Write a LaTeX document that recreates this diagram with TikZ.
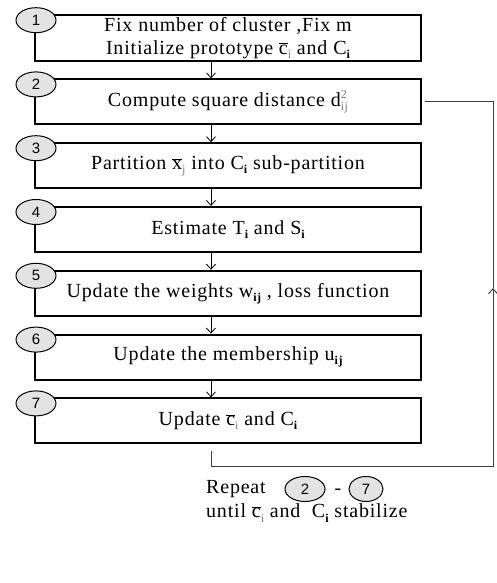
\documentclass[tikz,border=0pt]{standalone}
\usepackage{fontspec}
\setmainfont{Liberation Serif}[LetterSpace=4]
\newfontfamily\numfont{Liberation Sans}
\usetikzlibrary{matrix,positioning,shapes.geometric,arrows.meta}
\newcommand{\ovl}[1]{$\overline{\mbox{#1}}$}
\newcommand{\sml}{\fontsize{12}{12}\selectfont}
\newcommand{\sbi}[1]{\raisebox{-0.45ex}{\sml\bfseries #1}}
\newcommand{\fsb}[1]{\raisebox{-0.45ex}{\sml\color{gray}#1}}
\newcommand{\supsub}[2]{\makebox[0pt][l]{\raisebox{0.85ex}{\sml\color{gray}#1}}\raisebox{-0.45ex}{\sml\color{gray}#2}}
\begin{document}
\begin{tikzpicture}[
     % define styles
     flow/.style={
         matrix of nodes,
         inner sep=0pt,
         nodes={ draw, line width=2pt, minimum width=386pt, minimum height=45pt,
                 inner sep=2pt, font=\fontsize{20}{23}\selectfont },
         row sep=16.8pt
     },
     num/.style={
         ellipse, draw, line width=1pt, fill=gray!22,
         minimum width=40pt, minimum height=25pt, inner sep=0pt,
         font=\numfont\fontsize{15}{15}\selectfont
     },
     link/.style={->, line width=0.8pt},
     backline/.style={line width=1pt, draw=gray!50!black},
     note/.style={anchor=west, inner sep=0pt, font=\fontsize{20}{23}\selectfont},
     >={Straight Barb[length=5pt,width=9pt]}
]
\useasboundingbox (0,0) rectangle (497pt,-583pt);
% steps of the algorithm
\matrix[flow, anchor=north] (mat) at (228pt,-14pt)
{
\parbox{380pt}{\centering Fix number of cluster ,Fix m\\
  Initialize prototype \ovl{c}\fsb{i} and C\sbi{i}} \\
Compute  square distance d\supsub{2}{ij} \\
Partition \ovl{x}\fsb{j} into C\sbi{i} sub-partition \\
Estimate T\sbi{i} and S\sbi{i} \\
Update the weights w\sbi{ij} , loss function \\
Update the membership u\sbi{ij} \\
Update \ovl{c}\fsb{i} and C\sbi{i} \\
};
% step numbers
\foreach \i in {1,...,7}
  \node[num] (n\i) at ([shift={(2pt,-6pt)}]mat-\i-1.north west) {\i};
% arrows between steps
\foreach \i [count=\j from 2] in {1,...,6}
  \draw[link] ([xshift=-17pt]mat-\i-1.south) -- ([xshift=-17pt]mat-\j-1.north);
% repeat loop
\coordinate (fb0) at ([xshift=-17pt,yshift=-7pt]mat-7-1.south);
\coordinate (fb1) at (493pt,-466pt);
\coordinate (fb2) at (493pt,-288pt);
\draw[backline,->] (fb0) |- (fb1) -- (fb2);
\draw[backline] (fb2) |- ([xshift=3pt]mat-2-1.east);
% note
\node[note] (rep) at (206pt,-489pt) {Repeat};
\node[num] (r2) at (305pt,-489pt) {2};
\node[note, anchor=center] (dash) at (338pt,-492pt) {-};
\node[num, minimum width=34pt] (r7) at (366pt,-489pt) {7};
\node[note] (until) at (206pt,-513pt) {until \ovl{c}\fsb{i} and \ C\sbi{i} stabilize};
\end{tikzpicture}
\end{document}
